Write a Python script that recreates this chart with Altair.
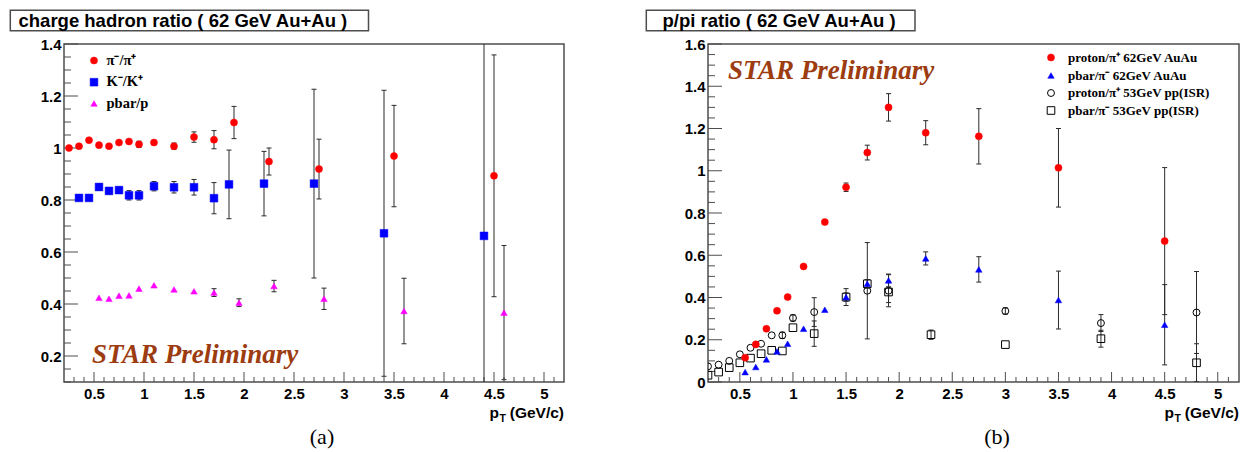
import altair as alt
import pandas as pd

# ---------------- panel (a): charge hadron ratio ----------------
pi_x = [0.25, 0.35, 0.45, 0.55, 0.65, 0.75, 0.85, 0.95, 1.1, 1.3, 1.5, 1.7, 1.9, 2.25, 2.75, 3.5, 4.5]
pi_y = [1.000, 1.007, 1.030, 1.011, 1.007, 1.021, 1.025, 1.014, 1.021, 1.007, 1.042, 1.032, 1.098, 0.948, 0.919, 0.969, 0.893]
pi_e = [0, 0, 0, 0, 0, 0, 0, 0.012, 0.008, 0.012, 0.02, 0.035, 0.062, 0.052, 0.115, 0.195, 0.465]

k_x = [0.35, 0.45, 0.55, 0.65, 0.75, 0.85, 0.95, 1.1, 1.3, 1.5, 1.7, 1.85, 2.2, 2.7, 3.4, 4.4]
k_y = [0.808, 0.808, 0.850, 0.835, 0.838, 0.818, 0.818, 0.853, 0.849, 0.849, 0.807, 0.860, 0.863, 0.863, 0.672, 0.662]
k_e = [0, 0, 0.012, 0.012, 0.012, 0.018, 0.018, 0.018, 0.022, 0.03, 0.06, 0.132, 0.124, 0.363, 0.55, 0.8]

pb_x = [0.55, 0.65, 0.75, 0.85, 0.95, 1.1, 1.3, 1.5, 1.7, 1.95, 2.3, 2.8, 3.6, 4.6]
pb_y = [0.424, 0.420, 0.432, 0.433, 0.459, 0.472, 0.456, 0.449, 0.444, 0.405, 0.469, 0.420, 0.373, 0.367]
pb_e = [0, 0, 0, 0, 0, 0, 0, 0, 0.015, 0.015, 0.022, 0.041, 0.126, 0.258]

# ---------------- panel (b): p/pi ratio ----------------
pp_x = [0.55, 0.65, 0.75, 0.85, 0.95, 1.1, 1.3, 1.5, 1.7, 1.9, 2.25, 2.75, 3.5, 4.5]
pp_y = [0.115, 0.178, 0.252, 0.337, 0.402, 0.547, 0.757, 0.922, 1.086, 1.300, 1.180, 1.163, 1.014, 0.667]
pp_e = [0, 0, 0, 0, 0, 0, 0, 0.02, 0.035, 0.065, 0.057, 0.131, 0.186, 0.348]

bp_x = [0.55, 0.65, 0.75, 0.85, 0.95, 1.1, 1.3, 1.5, 1.7, 1.9, 2.25, 2.75, 3.5, 4.5]
bp_y = [0.047, 0.071, 0.107, 0.145, 0.181, 0.252, 0.342, 0.402, 0.465, 0.481, 0.585, 0.533, 0.388, 0.271]
bp_e = [0, 0, 0, 0, 0, 0, 0, 0.02, 0.02, 0.03, 0.031, 0.06, 0.137, 0.19]

oc_x = [0.2, 0.3, 0.4, 0.5, 0.6, 0.7, 0.8, 0.9, 1.0, 1.2, 1.7, 1.9, 3.0, 3.9, 4.8]
oc_y = [0.074, 0.082, 0.100, 0.131, 0.162, 0.181, 0.221, 0.221, 0.303, 0.331, 0.432, 0.432, 0.336, 0.279, 0.329]
oc_e = [0, 0, 0, 0, 0, 0, 0, 0.015, 0.015, 0.068, 0.228, 0.076, 0.015, 0.04, 0.194]

os_x = [0.2, 0.3, 0.4, 0.5, 0.6, 0.7, 0.8, 0.9, 1.0, 1.2, 1.5, 1.7, 1.9, 2.3, 3.0, 3.9, 4.8]
os_y = [0.032, 0.047, 0.068, 0.091, 0.113, 0.134, 0.150, 0.147, 0.257, 0.229, 0.402, 0.465, 0.426, 0.224, 0.177, 0.205, 0.091]
os_e = [0, 0, 0, 0, 0, 0, 0, 0, 0, 0.06, 0.04, 0.02, 0.05, 0.022, 0, 0.04, 0.09]

# axis tick values / labels
x_major = [0.5, 1, 1.5, 2, 2.5, 3, 3.5, 4, 4.5, 5]
x_minor = [round(0.3 + 0.1 * i, 2) for i in range(49)]
ya_major = [0.2, 0.4, 0.6, 0.8, 1.0, 1.2, 1.4]
ya_minor = [round(0.1 + 0.05 * i, 2) for i in range(27)]
yb_major = [0, 0.2, 0.4, 0.6, 0.8, 1.0, 1.2, 1.4, 1.6]
yb_minor = [round(0.05 * i, 2) for i in range(33)]

WA, WB, H = 500, 531, 338
FRAME = "#4d4d4d"
BAR = "#2a2a2a"
SANS = "Liberation Sans"
SERIF = "Liberation Serif"
STAR_C = "#9c3c10"


def one(v):
    return pd.DataFrame({"t": [v]})


def panel(width, ydom, ymaj, ymin, series, legend, legend_font, title, title_box, star_xy, caption, cap_x):
    xsc = alt.Scale(domain=[0.2, 5.2], nice=False, zero=False)
    ysc = alt.Scale(domain=ydom, nice=False, zero=False)
    ax_x = alt.Axis(values=x_major, format="~g", title=None, labelPadding=4, labelFlush=False, labelOverlap=False)
    ax_y = alt.Axis(values=ymaj, format="~g", title=None, labelPadding=3, labelOverlap=False)
    layers = []
    # frame ticks (inside)
    tx = pd.DataFrame({"x": [v for v in x_minor if v not in x_major]})
    tX = pd.DataFrame({"x": x_major})
    layers.append(alt.Chart(tX).mark_rule(color=FRAME, strokeWidth=1).encode(
        x=alt.X("x:Q", scale=xsc, axis=ax_x), y=alt.value(H), y2=alt.value(H - 10)))
    layers.append(alt.Chart(tx).mark_rule(color=FRAME, strokeWidth=1).encode(
        x=alt.X("x:Q", scale=xsc, axis=ax_x), y=alt.value(H), y2=alt.value(H - 5)))
    tY = pd.DataFrame({"y": ymaj})
    ty = pd.DataFrame({"y": [v for v in ymin if v not in ymaj]})
    layers.append(alt.Chart(tY).mark_rule(color=FRAME, strokeWidth=1).encode(
        y=alt.Y("y:Q", scale=ysc, axis=ax_y), x=alt.value(0), x2=alt.value(14)))
    layers.append(alt.Chart(ty).mark_rule(color=FRAME, strokeWidth=1).encode(
        y=alt.Y("y:Q", scale=ysc, axis=ax_y), x=alt.value(0), x2=alt.value(7)))

    for (xv, yv, ev, shape, color, size, filled) in series:
        df = pd.DataFrame({"x": xv, "y": yv, "e": ev})
        df["lo"] = df["y"] - df["e"]
        df["hi"] = df["y"] + df["e"]
        eb = df[df["e"] > 0]
        X = alt.X("x:Q", scale=xsc, axis=ax_x)
        layers.append(alt.Chart(eb).mark_rule(color=BAR, strokeWidth=1, clip=True).encode(
            x=X, y=alt.Y("lo:Q", scale=ysc, axis=ax_y), y2="hi:Q"))
        for f in ["lo", "hi"]:
            layers.append(alt.Chart(eb).mark_rule(color=BAR, strokeWidth=1, clip=True,
                                                  xOffset=-2.5, x2Offset=2.5).encode(
                x=X, x2="x:Q", y=alt.Y(f + ":Q", scale=ysc, axis=ax_y)))
        if filled:
            mk = alt.Chart(df).mark_point(shape=shape, filled=True, fill=color, stroke=color,
                                          strokeWidth=0.5, size=size, opacity=1, clip=True)
        else:
            mk = alt.Chart(df).mark_point(shape=shape, filled=False, stroke=color,
                                          strokeWidth=1, size=size, opacity=1, clip=True)
        layers.append(mk.encode(x=X, y=alt.Y("y:Q", scale=ysc, axis=ax_y)))

    # legend
    for (lab, shape, color, size, filled, mx, tx_, ly) in legend:
        if filled:
            m = alt.Chart(one(lab)).mark_point(shape=shape, filled=True, fill=color, stroke=color,
                                               strokeWidth=0.5, size=size, opacity=1)
        else:
            m = alt.Chart(one(lab)).mark_point(shape=shape, filled=False, stroke=color,
                                               strokeWidth=1, size=size, opacity=1)
        layers.append(m.encode(x=alt.value(mx), y=alt.value(ly)))
        layers.append(alt.Chart(one(lab)).mark_text(font=SERIF, fontWeight="bold", fontSize=legend_font,
                                                    align="left", baseline="middle", color="black").encode(
            text="t:N", x=alt.value(tx_), y=alt.value(ly)))

    # STAR Preliminary
    layers.append(alt.Chart(one("STAR Preliminary")).mark_text(
        font=SERIF, fontWeight="bold", fontStyle="italic", fontSize=27, color=STAR_C,
        align="left", baseline="alphabetic").encode(text="t:N", x=alt.value(star_xy[0]), y=alt.value(star_xy[1])))

    # title box
    layers.append(alt.Chart(one(title)).mark_rect(fill="white", stroke=FRAME, strokeWidth=1.5).encode(
        x=alt.value(title_box[0]), x2=alt.value(title_box[1]), y=alt.value(-33.7), y2=alt.value(-13.2)))
    layers.append(alt.Chart(one(title)).mark_text(font=SANS, fontWeight="bold", fontSize=18.5, color="black",
                                                  align="left", baseline="middle").encode(
        text="t:N", x=alt.value(-45.5), y=alt.value(-22.8)))

    # x-axis title p_T (GeV/c)
    layers.append(alt.Chart(one("(GeV/c)")).mark_text(font=SANS, fontWeight="bold", fontSize=15.5, color="black",
                                                      align="right", baseline="alphabetic").encode(
        text="t:N", x=alt.value(width), y=alt.value(374)))
    layers.append(alt.Chart(one("T")).mark_text(font=SANS, fontWeight="bold", fontSize=10.5, color="black",
                                                align="right", baseline="alphabetic").encode(
        text="t:N", x=alt.value(width - 58), y=alt.value(378)))
    layers.append(alt.Chart(one("p")).mark_text(font=SANS, fontWeight="bold", fontSize=15.5, color="black",
                                                align="right", baseline="alphabetic").encode(
        text="t:N", x=alt.value(width - 65), y=alt.value(374)))

    # caption
    layers.append(alt.Chart(one(caption)).mark_text(font=SERIF, fontSize=22, color="black",
                                                    align="center", baseline="middle").encode(
        text="t:N", x=alt.value(cap_x), y=alt.value(392.5)))

    return alt.layer(*layers).properties(width=width, height=H)


RED, BLUE, MAG = "#ff0000", "#0000ff", "#ff00ff"

left = panel(
    WA, [0.1, 1.4], ya_major, ya_minor,
    [
        (pi_x, pi_y, pi_e, "circle", RED, 50, True),
        (k_x, k_y, k_e, "square", BLUE, 60, True),
        (pb_x, pb_y, pb_e, "triangle-up", MAG, 42, True),
    ],
    [
        ("π⁻/π⁺", "circle", RED, 50, True, 30, 42.5, 16.5),
        ("K⁻/K⁺", "square", BLUE, 60, True, 30, 42.5, 38.2),
        ("pbar/p", "triangle-up", MAG, 42, True, 30, 42.5, 59.5),
    ],
    14.5,
    "charge hadron ratio ( 62 GeV Au+Au )", (-53.7, 304.5), (28, 319), "(a)", 258,
)

right = panel(
    WB, [0, 1.6], yb_major, yb_minor,
    [
        (oc_x, oc_y, oc_e, "circle", "black", 48, False),
        (os_x, os_y, os_e, "square", "black", 58, False),
        (pp_x, pp_y, pp_e, "circle", RED, 50, True),
        (bp_x, bp_y, bp_e, "triangle-up", BLUE, 42, True),
    ],
    [
        ("proton/π⁺ 62GeV AuAu", "circle", RED, 50, True, 343, 360, 13.5),
        ("pbar/π⁻ 62GeV AuAu", "triangle-up", BLUE, 42, True, 343, 360, 31.5),
        ("proton/π⁺ 53GeV pp(ISR)", "circle", "black", 48, False, 343, 360, 49),
        ("pbar/π⁻ 53GeV pp(ISR)", "square", "black", 58, False, 343, 360, 66.5),
    ],
    13,
    "p/pi ratio ( 62 GeV Au+Au )", (-61.7, 207), (20, 35), "(b)", 289,
)

chart = alt.hconcat(left, right, spacing=79, padding=0).configure_view(
    stroke=FRAME, strokeWidth=1.5
).configure_axis(
    domain=False, ticks=False, grid=False,
    labelFont=SANS, labelFontSize=15, labelFontWeight="bold", labelColor="black",
)

chart.save("out.html", embed_options={"renderer": "svg", "actions": False})
